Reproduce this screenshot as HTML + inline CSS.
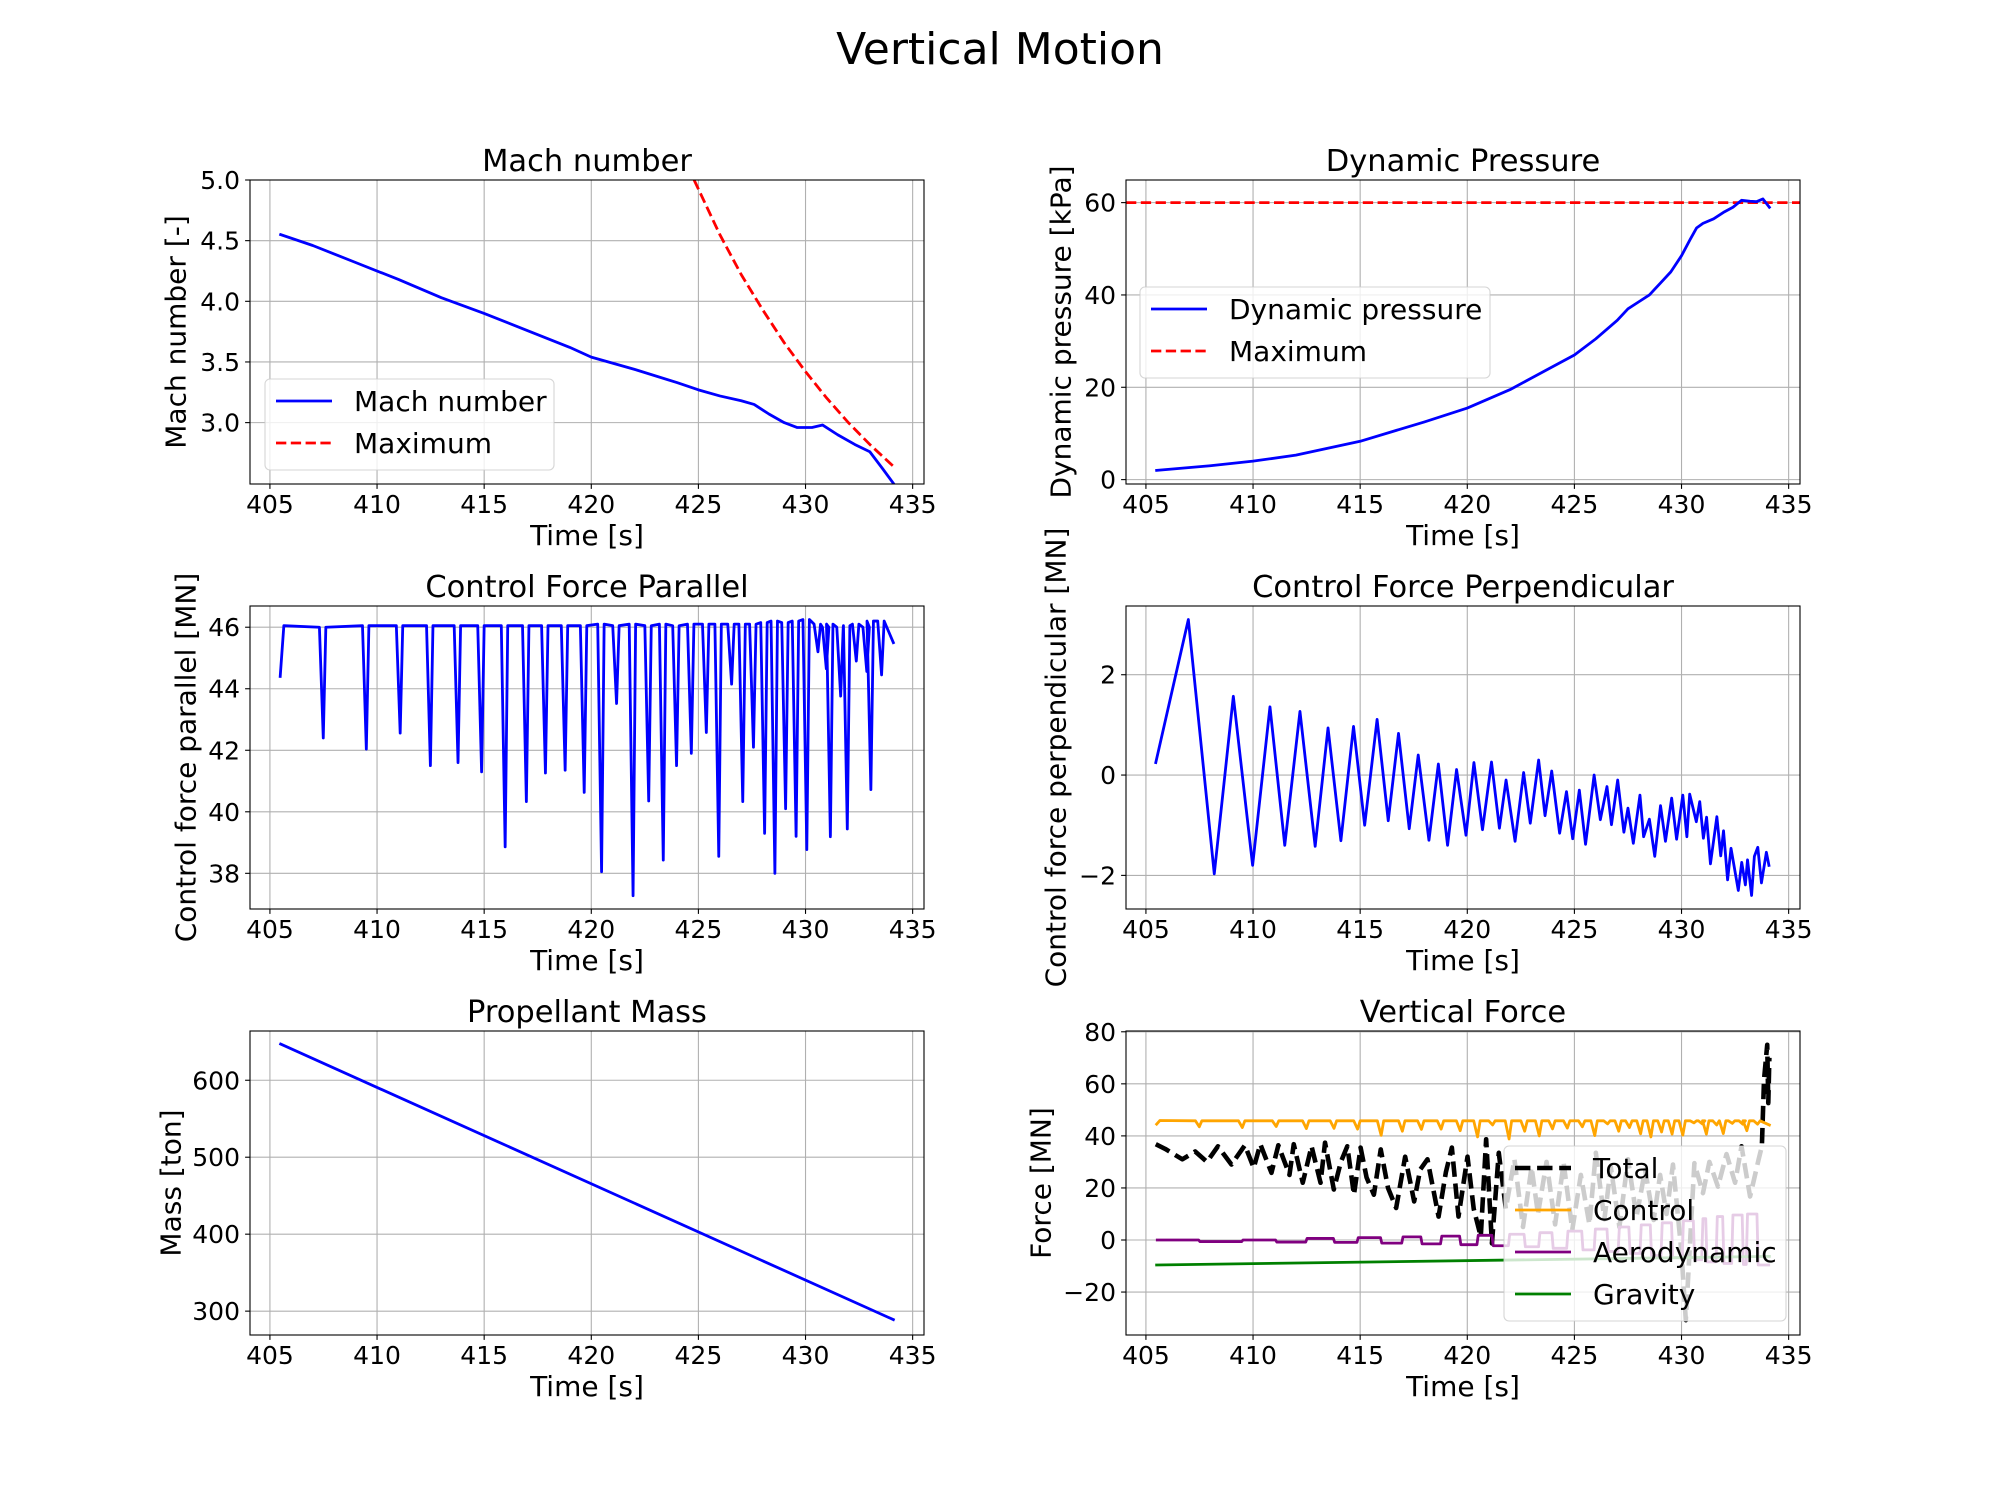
<!DOCTYPE html>
<html><head><meta charset="utf-8"><title>Vertical Motion</title>
<style>
html,body{margin:0;padding:0;background:#fff;}
svg{display:block;font-family:"DejaVu Sans","Liberation Sans",sans-serif;}
</style></head>
<body>
<svg id="fig" width="2000" height="1500" viewBox="0 0 2000 1500" xmlns="http://www.w3.org/2000/svg">
<rect x="0" y="0" width="2000" height="1500" fill="#fff"/>
<text x="1000" y="64" font-size="44" text-anchor="middle">Vertical Motion</text>
</svg>
<script>
// ---------- data ----------
const machT = [405.5, 407, 409, 411, 413, 415, 417, 419, 420, 422, 424, 425, 426, 427, 427.6, 428.3, 429, 429.6, 430.3, 430.8, 431.5, 432.3, 433, 433.6, 434.1];
const machV = [4.55, 4.46, 4.32, 4.18, 4.03, 3.90, 3.76, 3.62, 3.54, 3.44, 3.33, 3.27, 3.22, 3.18, 3.15, 3.07, 3.00, 2.96, 2.96, 2.98, 2.90, 2.82, 2.76, 2.62, 2.50];
const machMaxT = [424.8, 426, 427, 428, 429, 430, 431, 432, 433, 434.1];
const machMaxV = [5.0, 4.55, 4.22, 3.93, 3.66, 3.42, 3.20, 3.00, 2.82, 2.64];

const dynT = [405.5, 408, 410, 412, 415, 418, 420, 422, 424, 425, 426, 427, 427.5, 428, 428.5, 429, 429.5, 430, 430.4, 430.7, 431, 431.5, 432, 432.4, 432.8, 433.2, 433.5, 433.8, 434.1];
const dynV = [2, 3, 4, 5.3, 8.3, 12.5, 15.5, 19.5, 24.5, 27, 30.5, 34.5, 37, 38.5, 40, 42.5, 45, 48.5, 52, 54.5, 55.5, 56.5, 58, 59, 60.5, 60.3, 60.2, 60.8, 59];
const dynMax = 60;

const parDipT = [407.49, 409.5, 411.08, 412.49, 413.78, 414.88, 415.98, 416.97, 417.86, 418.78, 419.67, 420.48, 421.18, 421.95, 422.68, 423.36, 423.98, 424.67, 425.37, 425.95, 426.55, 427.07, 427.57, 428.09, 428.57, 429.07, 429.56, 430.06, 430.58, 430.97, 431.16, 431.64, 431.95, 432.37, 432.86, 433.05, 433.55];
const parDipV = [42.4, 42.04, 42.56, 41.5, 41.6, 41.3, 38.86, 40.33, 41.26, 41.35, 40.63, 38.05, 43.52, 37.27, 40.35, 38.43, 41.5, 41.9, 42.58, 38.55, 44.15, 40.33, 42.1, 39.3, 38.0, 40.1, 39.2, 38.77, 45.2, 44.65, 39.19, 43.76, 39.44, 44.9, 44.56, 40.72, 44.45];
const parTop = [46.0, 46.05, 46.05, 46.05, 46.05, 46.05, 46.05, 46.05, 46.05, 46.05, 46.05, 46.1, 46.05, 46.1, 46.05, 46.1, 46.05, 46.1, 46.1, 46.1, 46.1, 46.1, 46.1, 46.15, 46.2, 46.15, 46.2, 46.25, 46.1, 46.0, 46.1, 46.0, 46.05, 46.1, 46.0, 46.2, 46.2];
const parStart = [405.48, 44.4];
const parFirstTop = [405.65, 46.05];
const parEnd = [434.1, 45.5];

const perT = [405.46, 406.98, 408.19, 409.08, 409.98, 410.79, 411.48, 412.19, 412.9, 413.5, 414.1, 414.69, 415.21, 415.79, 416.31, 416.79, 417.29, 417.71, 418.21, 418.65, 419.08, 419.5, 419.94, 420.31, 420.71, 421.13, 421.5, 421.81, 422.23, 422.63, 422.94, 423.33, 423.63, 423.94, 424.31, 424.63, 424.92, 425.23, 425.52, 425.92, 426.21, 426.52, 426.73, 427.02, 427.31, 427.5, 427.75, 428.06, 428.23, 428.5, 428.75, 429.02, 429.25, 429.54, 429.77, 430.06, 430.25, 430.38, 430.69, 430.85, 431.02, 431.17, 431.35, 431.65, 431.83, 431.96, 432.15, 432.31, 432.65, 432.81, 432.98, 433.08, 433.27, 433.4, 433.56, 433.73, 433.96, 434.08];
const perV = [0.25, 3.1, -1.97, 1.57, -1.8, 1.36, -1.4, 1.27, -1.42, 0.94, -1.31, 0.97, -1.0, 1.11, -0.91, 0.83, -1.07, 0.4, -1.3, 0.22, -1.4, 0.11, -1.2, 0.25, -1.09, 0.26, -1.06, -0.1, -1.32, 0.05, -0.96, 0.3, -0.81, 0.08, -1.16, -0.33, -1.27, -0.3, -1.38, 0, -0.89, -0.23, -0.99, -0.1, -1.14, -0.66, -1.36, -0.4, -1.23, -0.88, -1.62, -0.61, -1.32, -0.46, -1.28, -0.4, -1.23, -0.38, -0.93, -0.53, -1.26, -0.84, -1.77, -0.83, -1.61, -1.11, -2.09, -1.46, -2.3, -1.74, -2.19, -1.69, -2.4, -1.62, -1.44, -2.15, -1.54, -1.8];

const massT = [405.5, 434.1];
const massV = [647, 289];

const ctrlDipV = [43.5, 43.2, 43.6, 42.8, 42.9, 42.6, 40.2, 41.8, 42.5, 42.6, 42, 39.6, 44.2, 38.8, 41.8, 40, 42.7, 43, 43.5, 40.1, 44.6, 41.8, 43.2, 40.8, 39.6, 41.5, 40.7, 40.3, 45.0, 44.6, 40.7, 44.2, 40.9, 44.8, 44.5, 42, 44.5];
const ctrlTop = 45.8;
const ctrlStart = [405.5, 44.5];
const ctrlFirstTop = [405.65, 45.9];
const ctrlEnd = [434.1, 44.2];

const aeroV = [0, -0.6, 0, -0.8, 0.6, -0.9, 0.9, -1.2, 1.2, -1.5, 1.5, -1.8, 1.8, -2.2, 2.2, -2.6, 2.8, -3.2, 3.4, -3.8, 4.2, -4.4, 5, -5.2, 5.8, -6, 6.6, -6.8, 7.4, -7.6, 8.2, -8.4, 9, -9, 9.6, -9.4, 10, -9.6];

const gravT = [405.5, 434.1];
const gravV = [-9.6, -6.3];

const totT = [405.46, 405.9, 406.7, 407.3, 407.85, 408.36, 408.99, 409.62, 410.03, 410.34, 410.86, 411.18, 411.7, 411.9, 412.32, 412.73, 413.15, 413.36, 413.77, 414.1, 414.4, 414.71, 415.02, 415.3, 415.64, 415.96, 416.3, 416.68, 417.1, 417.52, 417.8, 418.14, 418.66, 419.0, 419.28, 419.59, 420.01, 420.3, 420.63, 420.88, 421.15, 421.47, 421.8, 422.2, 422.6, 423, 423.3, 423.7, 424.1, 424.5, 424.9, 425.3, 425.7, 426, 426.4, 426.7, 427.1, 427.5, 427.9, 428.3, 428.7, 429, 429.3, 429.6, 430, 430.2, 430.6, 431, 431.3, 431.7, 432.1, 432.5, 432.8, 433.2, 433.6, 433.75, 433.85, 434.0, 434.05, 434.1];
const totV = [36.8, 35, 31, 34, 30, 36, 29, 36.4, 27.7, 36.8, 25.8, 36.4, 25, 36.8, 22, 36, 22, 37.4, 19.4, 30, 36, 17.4, 35.5, 24, 17.4, 34.8, 20, 12.3, 32, 14.8, 27, 31, 9, 26, 35.5, 9, 32, 12, 1.3, 38.7, -1.3, 33.5, 12, 31, 5, 28, 10, 30, 6, 29.5, 3.9, 25, 6, 33.5, 8, 28, 5, 31, 9, 27, 7.7, 25, 10, 29, -5, -30.8, 29.5, 18, 30, 20.5, 33, 22, 36, 16.7, 31, 36, 61.5, 75, 52.6, 70];

const xTicks = [405, 410, 415, 420, 425, 430, 435];
const machTicks = [3.0, 3.5, 4.0, 4.5, 5.0];
const dynTicks = [0, 20, 40, 60];
const parTicks = [38, 40, 42, 44, 46];
const perTicks = [-2, 0, 2];
const massTicks = [300, 400, 500, 600];
const forceTicks = [-20, 0, 20, 40, 60, 80];

// ---------- helpers ----------
const NS = 'http://www.w3.org/2000/svg';
const fig = document.getElementById('fig');
function mk(tag, attrs, parent) {
  const e = document.createElementNS(NS, tag);
  for (const k in attrs) e.setAttribute(k, attrs[k]);
  (parent || fig).appendChild(e);
  return e;
}
const XLIM = [404.07, 435.53];
const TICK_FS = 25, TITLE_FS = 30.5;
let clipId = 0;

function panel(name, L, T, W, H, ylim, yticks, decimals, title, ylabel, ylabelX) {
  const g = mk('g', {});
  
  
  const x = v => L + (v - XLIM[0]) / (XLIM[1] - XLIM[0]) * W;
  const y = v => T + H - (v - ylim[0]) / (ylim[1] - ylim[0]) * H;
  xTicks.forEach(t => {
    const l = mk('line', {x1: x(t), x2: x(t), y1: T, y2: T + H, stroke: '#b0b0b0', 'stroke-width': 1.1}, g);
    
    
    const tk = mk('line', {x1: x(t), x2: x(t), y1: T + H, y2: T + H + 4.9, stroke: '#000', 'stroke-width': 1.1}, g);
    
    
    const tx = mk('text', {x: x(t), y: T + H + 29, 'font-size': TICK_FS, 'text-anchor': 'middle'}, g);
    tx.textContent = t;
    
    
  });
  yticks.forEach(t => {
    const l = mk('line', {x1: L, x2: L + W, y1: y(t), y2: y(t), stroke: '#b0b0b0', 'stroke-width': 1.1}, g);
    
    
    const tk = mk('line', {x1: L - 4.9, x2: L, y1: y(t), y2: y(t), stroke: '#000', 'stroke-width': 1.1}, g);
    
    
    const tx = mk('text', {x: L - 10, y: y(t) + 9, 'font-size': TICK_FS, 'text-anchor': 'end'}, g);
    tx.textContent = t.toFixed(decimals).replace('-', '\u2212');
    
    
  });
  const cid = 'clip' + (clipId++);
  const cp = mk('clipPath', {id: cid}, g);
  mk('rect', {x: L, y: T, width: W, height: H}, cp);
  const plot = mk('g', {'clip-path': 'url(#' + cid + ')'}, g);
  
  
  const frame = mk('rect', {x: L, y: T, width: W, height: H, fill: 'none', stroke: '#000', 'stroke-width': 1.1}, g);
  
  
  const tt = mk('text', {x: L + W / 2, y: T - 9, 'font-size': TITLE_FS, 'text-anchor': 'middle'}, g);
  tt.textContent = title;
  
  
  const xl = mk('text', {x: L + W / 2, y: T + H + 61, 'font-size': 28, 'text-anchor': 'middle'}, g);
  xl.textContent = 'Time [s]';
  
  
  const cy = T + H / 2;
  const yl = mk('text', {x: ylabelX, y: cy, 'font-size': 28, 'text-anchor': 'middle', 'dominant-baseline': 'central', transform: 'rotate(-90 ' + ylabelX + ' ' + cy + ')'}, g);
  yl.textContent = ylabel;
  
  
  return {g, plot, x, y};
}

function line(ax, ts, vs, color, width, dash, name, parent) {
  const pts = ts.map((t, i) => ax.x(t).toFixed(2) + ',' + ax.y(vs[i]).toFixed(2)).join(' ');
  const p = mk('polyline', {points: pts, fill: 'none', stroke: color, 'stroke-width': width, 'stroke-linejoin': 'round', 'stroke-linecap': dash ? 'butt' : 'square'}, parent || ax.plot);
  if (dash) p.setAttribute('stroke-dasharray', dash);
  
  
  return p;
}

function legend(ax, name, x0, y0, w, h, items) {
  const lg = mk('g', {}, ax.g);
  
  
  mk('rect', {x: x0, y: y0, width: w, height: h, rx: 5, fill: '#fff', 'fill-opacity': 0.8, stroke: '#cccccc', 'stroke-opacity': 0.8, 'stroke-width': 1.1}, lg);
  items.forEach((it, i) => {
    const cy = y0 + 22 + i * 42;
    const l = mk('line', {x1: x0 + 11, x2: x0 + 67, y1: cy, y2: cy, stroke: it.color, 'stroke-width': it.w}, lg);
    if (it.dash) l.setAttribute('stroke-dasharray', it.dash);
    
    
    const t = mk('text', {x: x0 + 89, y: cy + 10, 'font-size': 28}, lg);
    t.textContent = it.label;
    
    
  });
}

const LW = 2.8, RED_DASH = '10.3,4.5';

// ---------- Mach ----------
const a1 = panel('mach-number-panel', 250, 180, 674, 304, [2.494, 5.0], machTicks, 1, 'Mach number', 'Mach number [-]', 176);
line(a1, machT, machV, '#0000ff', LW, null, 'mach-line');
line(a1, machMaxT, machMaxV, '#ff0000', LW, RED_DASH, 'mach-max-line');
legend(a1, 'mach-legend', 265, 379, 289, 91, [{label: 'Mach number', color: '#0000ff', w: LW}, {label: 'Maximum', color: '#ff0000', w: LW, dash: RED_DASH}]);

// ---------- Dynamic pressure ----------
const a2 = panel('dynamic-pressure-panel', 1126, 180, 674, 304, [-0.95, 64.9], dynTicks, 0, 'Dynamic Pressure', 'Dynamic pressure [kPa]', 1061);
line(a2, [XLIM[0], XLIM[1]], [dynMax, dynMax], '#ff0000', LW, RED_DASH, 'dynamic-pressure-max-line');
line(a2, dynT, dynV, '#0000ff', LW, null, 'dynamic-pressure-line');
legend(a2, 'dynamic-pressure-legend', 1140, 287, 350, 91, [{label: 'Dynamic pressure', color: '#0000ff', w: LW}, {label: 'Maximum', color: '#ff0000', w: LW, dash: RED_DASH}]);

// ---------- Control force parallel ----------
const a3 = panel('control-force-parallel-panel', 250, 606, 674, 303, [36.84, 46.69], parTicks, 0, 'Control Force Parallel', 'Control force parallel [MN]', 186);
const parTs = [parStart[0], parFirstTop[0]], parVs = [parStart[1], parFirstTop[1]];
parDipT.forEach((t, i) => {
  parTs.push(t - 0.18); parVs.push(parTop[i]);
  parTs.push(t); parVs.push(parDipV[i]);
  parTs.push(t + 0.12); parVs.push(parTop[i]);
});
parTs.push(parEnd[0]); parVs.push(parEnd[1]);
line(a3, parTs, parVs, '#0000ff', LW, null, 'control-force-parallel-line');

// ---------- Control force perpendicular ----------
const a4 = panel('control-force-perpendicular-panel', 1126, 606, 674, 303, [-2.67, 3.37], perTicks, 0, 'Control Force Perpendicular', 'Control force perpendicular [MN]', 1056);
line(a4, perT, perV, '#0000ff', LW, null, 'control-force-perpendicular-line');

// ---------- Propellant mass ----------
const a5 = panel('propellant-mass-panel', 250, 1031, 674, 304, [269, 664], massTicks, 0, 'Propellant Mass', 'Mass [ton]', 171);
line(a5, massT, massV, '#0000ff', LW, null, 'propellant-mass-line');

// ---------- Vertical force ----------
const a6 = panel('vertical-force-panel', 1126, 1031, 674, 304, [-36.5, 80.3], forceTicks, 0, 'Vertical Force', 'Force [MN]', 1041);
const ctrlTs = [ctrlStart[0], ctrlFirstTop[0]], ctrlVs = [ctrlStart[1], ctrlFirstTop[1]];
parDipT.forEach((t, i) => {
  ctrlTs.push(t - 0.18); ctrlVs.push(ctrlTop);
  ctrlTs.push(t); ctrlVs.push(ctrlDipV[i]);
  ctrlTs.push(t + 0.12); ctrlVs.push(ctrlTop);
});
ctrlTs.push(ctrlEnd[0]); ctrlVs.push(ctrlEnd[1]);
const aeroBounds = [405.5].concat(parDipT, [434.1]);
const aeroTs = [], aeroVs = [];
aeroV.forEach((v, i) => {
  if (i >= aeroBounds.length - 1) return;
  aeroTs.push(aeroBounds[i] + 0.03); aeroVs.push(v);
  aeroTs.push(aeroBounds[i + 1] - 0.03); aeroVs.push(v);
});
line(a6, totT, totV, '#000000', 4.6, '15.4,6.7', 'total-force-line');
line(a6, ctrlTs, ctrlVs, '#ffa500', LW, null, 'control-force-line');
line(a6, aeroTs, aeroVs, '#800080', LW, null, 'aerodynamic-force-line');
line(a6, gravT, gravV, '#008000', LW, null, 'gravity-force-line');
legend(a6, 'vertical-force-legend', 1504, 1146, 282, 175, [
  {label: 'Total', color: '#000', w: 4.6, dash: '15.4,6.7'},
  {label: 'Control', color: '#ffa500', w: LW},
  {label: 'Aerodynamic', color: '#800080', w: LW},
  {label: 'Gravity', color: '#008000', w: LW}]);
</script>
</body></html>
